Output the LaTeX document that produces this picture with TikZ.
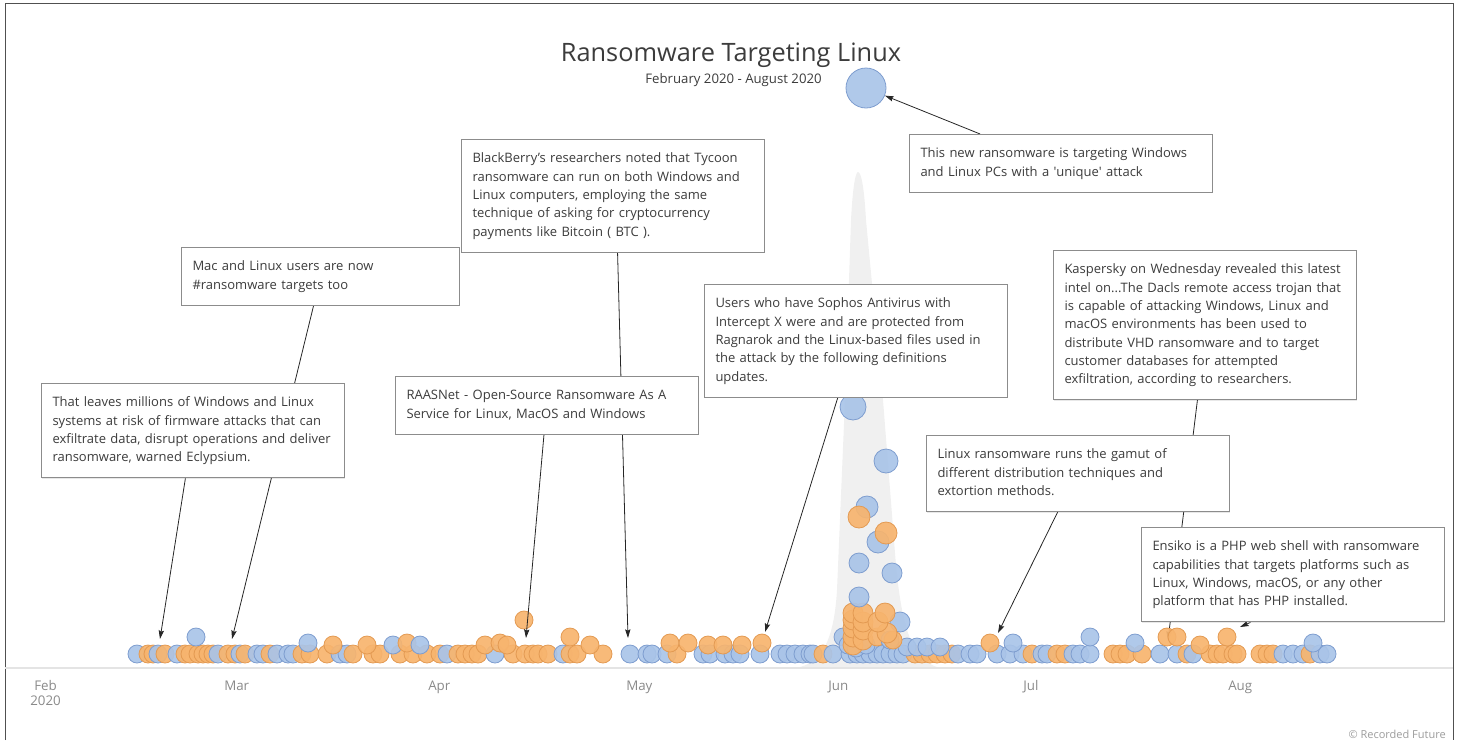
\documentclass[tikz,border=0pt]{standalone}
\usepackage{fontspec}
\setmainfont{Open Sans}
\usetikzlibrary{arrows.meta,calc,shadows}
\definecolor{textgray}{HTML}{3C3C3C}
\definecolor{boxgray}{HTML}{8C8C8C}
\definecolor{dotblue}{HTML}{A9C4E8}
\definecolor{dotblueline}{HTML}{7E9DCF}
\definecolor{dotorange}{HTML}{F7B46E}
\definecolor{dotorangeline}{HTML}{E39A52}
\definecolor{spikegray}{HTML}{F0F0F0}
\definecolor{axisgray}{HTML}{E4E4E4}
\definecolor{monthgray}{HTML}{8A8A8A}
\definecolor{framegray}{HTML}{505050}
\pgfdeclarelayer{bg}
\pgfdeclarelayer{mid}
\pgfsetlayers{bg,mid,main}
\newcommand{\oneline}[1]{\mbox{#1}}
\begin{document}
\begin{tikzpicture}[x=0.75pt,y=-0.75pt,
  callout/.style={draw=boxgray, line width=0.75pt, fill=white, text=textgray,
    font=\fontsize{9.75}{13.7}\selectfont, text width=210.75pt, align=left,
    inner xsep=8.25pt, inner ysep=8pt, anchor=north west,
    execute at begin node=\strut, execute at end node=\strut,
    drop shadow={shadow xshift=0.7pt, shadow yshift=-0.7pt, opacity=0.18}},
  conn/.style={draw=black!85, line width=0.6pt, -{Stealth[length=6.5pt,width=4pt,inset=1pt]}},
  dotb/.style={fill=dotblue, draw=dotblueline, line width=0.6pt, fill opacity=0.92},
  doto/.style={fill=dotorange, draw=dotorangeline, line width=0.6pt, fill opacity=0.92},
  month/.style={text=monthgray, font=\fontsize{10}{12}\selectfont, anchor=base west, inner sep=0pt},
]
\useasboundingbox (0,0) rectangle (1457,740);

% ---------- background layer ----------
\begin{pgfonlayer}{bg}
  \draw[framegray, line width=1.2pt] (5.5,740) -- (5.5,3.5) -- (1453.5,3.5) -- (1453.5,740);
  \fill[spikegray] (795,668) .. controls (822,664) and (834,640) .. (837,590)
     -- (845,400) -- (851,220) .. controls (853,182) and (856,172) .. (858,172)
     .. controls (861,172) and (864,185) .. (866,220) -- (883,400) -- (894,540)
     .. controls (900,625) and (910,660) .. (940,668) -- cycle;
  \draw[axisgray, line width=1.6pt] (5,668) -- (1453,668);
  % Kaspersky connector runs under the dots
  \coordinate (t7) at (1168,640);
\end{pgfonlayer}

% ---------- callouts ----------
\node[callout] (b1) at (41,383) {\oneline{That leaves millions of Windows and Linux}\\\oneline{systems at risk of firmware attacks that can}\\\oneline{exfiltrate data, disrupt operations and deliver}\\\oneline{ransomware, warned Eclypsium.}};
\node[callout, text width=192pt] (b2) at (181,247) {\oneline{Mac and Linux users are now}\\\oneline{\#ransomware targets too}};
\node[callout] (b3) at (461,139) {\oneline{BlackBerry's researchers noted that Tycoon}\\\oneline{ransomware can run on both Windows and}\\\oneline{Linux computers, employing the same}\\\oneline{technique of asking for cryptocurrency}\\\oneline{payments like Bitcoin ( BTC ).}};
\node[callout] (b4) at (395,376) {\oneline{RAASNet - Open-Source Ransomware As A}\\\oneline{Service for Linux, MacOS and Windows}};
\node[callout] (b5) at (704,284) {\oneline{Users who have Sophos Antivirus with}\\\oneline{Intercept X were and are protected from}\\\oneline{Ragnarok and the Linux-based files used in}\\\oneline{the attack by the following definitions}\\\oneline{updates.}};
\node[callout] (b6) at (909,134) {\oneline{This new ransomware is targeting Windows}\\\oneline{and Linux PCs with a \textquotesingle unique\textquotesingle\ attack}};
\node[callout] (b7) at (1053,250) {\oneline{Kaspersky on Wednesday revealed this latest}\\\oneline{intel on...The Dacls remote access trojan that}\\\oneline{is capable of attacking Windows, Linux and}\\\oneline{macOS environments has been used to}\\\oneline{distribute VHD ransomware and to target}\\\oneline{customer databases for attempted}\\\oneline{exfiltration, according to researchers.}};
\node[callout] (b8) at (926,435) {\oneline{Linux ransomware runs the gamut of}\\\oneline{different distribution techniques and}\\\oneline{extortion methods.}};
\node[callout] (b9) at (1141,527) {\oneline{Ensiko is a PHP web shell with ransomware}\\\oneline{capabilities that targets platforms such as}\\\oneline{Linux, Windows, macOS, or any other}\\\oneline{platform that has PHP installed.}};

\begin{pgfonlayer}{bg}
  \draw[conn] ($(b7.south west)!0.475!(b7.south east)$) -- (t7);
  % base row of dots
  \foreach \x/\c in {137/dotb,148/doto,153/doto,158/dotb,165/doto,177/dotb,185/doto,190/doto,198/doto,203/doto,208/doto,213/doto,218/dotb,
    228/doto,235/doto,240/dotb,245/doto,257/dotb,263/dotb,270/doto,277/dotb,288/dotb,293/dotb,302/doto,310/doto,
    327/doto,340/dotb,347/dotb,353/doto,373/doto,380/doto,400/doto,413/doto,427/doto,440/doto,447/dotb,
    458/doto,465/doto,472/doto,478/doto,495/dotb,513/doto,525/doto,533/doto,538/doto,548/doto,563/dotb,570/doto,577/doto,603/doto,
    630/dotb,647/dotb,652/dotb,667/dotb,677/doto,703/dotb,710/dotb,725/dotb,733/dotb,740/dotb,760/dotb,780/dotb,787/dotb,795/dotb,803/dotb,810/dotb,
    813/dotb,823/doto,833/dotb,850/dotb,857/dotb,863/dotb,870/dotb,877/dotb,883/dotb,890/dotb,897/dotb,903/dotb,
    915/doto,922/doto,930/doto,937/doto,945/doto,952/doto,958/dotb,
    970/dotb,977/dotb,997/dotb,1010/dotb,1023/dotb,1032/doto,1042/dotb,1047/dotb,1057/doto,1065/doto,1073/dotb,1080/dotb,1090/dotb,
    1113/doto,1120/doto,1127/doto,1142/doto,1160/dotb,1177/dotb,1187/doto,1193/dotb,1210/doto,1217/doto,1223/doto,1233/doto,1237/doto,
    1260/doto,1267/doto,1273/doto,1283/dotb,1293/dotb,1303/dotb,1310/doto,1320/dotb,1327/dotb}
    {\path[\c] (\x,654) circle[radius=9];}
  % raised dots
  \foreach \x/\y/\c in {196/637/dotb,308/643/dotb,333/645/doto,367/645/doto,393/645/dotb,407/643/doto,420/645/dotb,
    485/645/doto,500/643/doto,507/645/doto,524/620/doto,570/637/doto,590/645/doto,670/643/doto,688/643/doto,
    708/645/doto,723/645/doto,742/645/doto,762/643/doto,843/637/dotb,907/647/dotb,917/647/dotb,927/647/dotb,940/647/dotb,
    990/643/doto,1013/643/dotb,1090/637/dotb,1135/643/dotb,1167/637/doto,1177/637/doto,1200/645/doto,1227/637/doto,1313/643/dotb}
    {\path[\c] (\x,\y) circle[radius=9];}
  % spike cluster
  \foreach \x/\y/\c/\r in {848/645/dotb/9,856/648/dotb/9,866/645/dotb/9,853/645/doto/10,853/637/doto/10,853/628/doto/10,
    853/620/doto/10,853/613/doto/10,863/640/doto/10,863/630/doto/10,863/622/doto/10,863/613/doto/10,877/637/doto/9,
    890/640/dotb/9,900/622/dotb/10,893/640/doto/9,887/633/doto/10,878/622/doto/10,885/613/doto/10,
    859/597/dotb/10,859/563/dotb/10,892/573/dotb/10,878/542/dotb/11,867/507/dotb/11,859/517/doto/11,
    886/533/doto/11,886/461/dotb/12,853/407/dotb/13}
    {\path[\c] (\x,\y) circle[radius=\r];}
\end{pgfonlayer}

% ---------- titles, axis labels ----------
\node[text=textgray, font=\fontsize{19}{22}\selectfont, anchor=base, inner sep=0pt] (title) at (731,61) {Ransomware Targeting Linux};
\node[text=textgray, font=\fontsize{9.9}{12}\selectfont, anchor=base, inner sep=0pt] (subtitle) at (733.5,83) {February 2020 - August 2020};
\node[dotb, circle, minimum size=30pt, inner sep=0pt] (big) at (866,88) {};

\node[month] (mfeb) at (34,690) {Feb};
\node[month] (myear) at (30,705) {2020};
\node[month] (mmar) at (224,690) {Mar};
\node[month] (mapr) at (428,690) {Apr};
\node[month] (mmay) at (626,690) {May};
\node[month] (mjun) at (828,690) {Jun};
\node[month] (mjul) at (1023,690) {Jul};
\node[month] (maug) at (1228,690) {Aug};
\node[text=monthgray!85, font=\fontsize{8.25}{10}\selectfont, anchor=base east, inner sep=0pt] (copy) at (1446,738) {© Recorded Future};

% ---------- connectors ----------
\coordinate (t1) at (160,639);
\coordinate (t2) at (232,639);
\coordinate (t3) at (628,638);
\coordinate (t4) at (526,638);
\coordinate (t5) at (765,632);
\coordinate (t8) at (998,633);
\coordinate (t9) at (1240,627);
\begin{pgfonlayer}{mid}
  \draw[conn] ($(b1.south west)!0.475!(b1.south east)$) -- (t1);
  \draw[conn] ($(b2.south west)!0.475!(b2.south east)$) -- (t2);
  \draw[conn] ($(b3.south west)!0.515!(b3.south east)$) -- (t3);
  \draw[conn] ($(b4.south west)!0.49!(b4.south east)$) -- (t4);
  \draw[conn] ($(b5.south west)!0.44!(b5.south east)$) -- (t5);
  \draw[conn] ($(b6.north west)!0.234!(b6.north east)$) -- (big);
  \draw[conn] ($(b8.south west)!0.433!(b8.south east)$) -- (t8);
  \draw[conn] ($(b9.south west)!0.36!(b9.south east)$) -- (t9);
\end{pgfonlayer}
\end{tikzpicture}
\end{document}
